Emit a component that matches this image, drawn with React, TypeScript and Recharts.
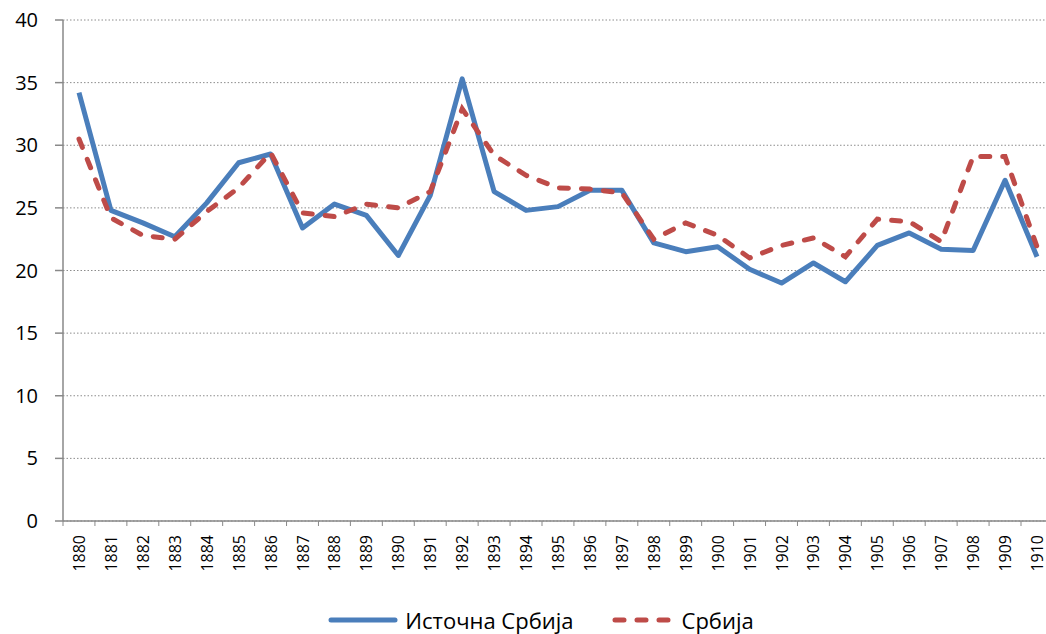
import { LineChart, Line, XAxis, YAxis, CartesianGrid, Legend } from "recharts"

const years = [
  "1880", "1881", "1882", "1883", "1884", "1885", "1886", "1887", "1888", "1889",
  "1890", "1891", "1892", "1893", "1894", "1895", "1896", "1897", "1898", "1899",
  "1900", "1901", "1902", "1903", "1904", "1905", "1906", "1907", "1908", "1909",
  "1910",
]

// Источна Србија
const eastSerbia = [
  34.2, 24.8, 23.8, 22.7, 25.4, 28.6, 29.3, 23.4, 25.3, 24.4,
  21.2, 26.0, 35.3, 26.3, 24.8, 25.1, 26.4, 26.4, 22.2, 21.5,
  21.9, 20.1, 19.0, 20.6, 19.1, 22.0, 23.0, 21.7, 21.6, 27.2,
  21.1,
]

// Србија
const serbia = [
  30.5, 24.2, 22.8, 22.5, 24.7, 26.6, 29.4, 24.6, 24.3, 25.3,
  25.0, 26.3, 32.9, 29.2, 27.6, 26.6, 26.5, 26.2, 22.5, 23.8,
  22.8, 21.0, 22.0, 22.6, 21.1, 24.1, 23.9, 22.3, 29.1, 29.1,
  21.9,
]

const yTicks = [0, 5, 10, 15, 20, 25, 30, 35, 40]

const BLUE = "#4a7ebb"
const RED = "#be4b48"
const AXIS = "#898989"
const FONT = "'Open Sans', 'Noto Sans', sans-serif"

const data = years.map((year, i) => ({
  year,
  east: eastSerbia[i],
  serbia: serbia[i],
}))

// half of one category band, for the tick marks between years
const HALF_BAND = 16

function YearTick(props: any) {
  const { x, y, payload, index } = props
  const last = index === years.length - 1
  return (
    <g>
      <line x1={x - HALF_BAND} y1={y} x2={x - HALF_BAND} y2={y + 5} stroke={AXIS} />
      {last && <line x1={x + HALF_BAND} y1={y} x2={x + HALF_BAND} y2={y + 5} stroke={AXIS} />}
      <text
        x={x}
        y={y + 14}
        transform={`rotate(-90, ${x}, ${y + 14})`}
        textAnchor="end"
        dominantBaseline="central"
        fontSize={16}
        fontFamily={FONT}
        fill="#000"
      >
        {payload.value}
      </text>
    </g>
  )
}

function ChartLegend() {
  return (
    <div
      style={{
        display: "flex",
        alignItems: "center",
        justifyContent: "center",
        height: 28,
        paddingLeft: 36,
        fontFamily: FONT,
        fontSize: 22,
        color: "#000",
      }}
    >
      <svg width={70} height={10}>
        <line x1={3} y1={5} x2={67} y2={5} stroke={BLUE} strokeWidth={5} strokeLinecap="round" />
      </svg>
      <span style={{ marginLeft: 7, marginRight: 38 }}>Источна Србија</span>
      <svg width={67} height={10}>
        <line
          x1={3}
          y1={5}
          x2={64}
          y2={5}
          stroke={RED}
          strokeWidth={5}
          strokeLinecap="round"
          strokeDasharray="9 13"
        />
      </svg>
      <span style={{ marginLeft: 3 }}>Србија</span>
    </div>
  )
}

export default function App() {
  return (
    <div style={{ width: 1046, height: 634, overflow: "hidden", background: "#fff" }}>
      <style>{`body { margin: 0; overflow: hidden; }`}</style>
      <LineChart
        width={1054}
        height={634}
        data={data}
        margin={{ top: 20, right: 1, bottom: 0, left: 0 }}
      >
        <CartesianGrid
          horizontal
          vertical={false}
          stroke="#8c8c8c"
          strokeDasharray="1.5 2"
        />
        <XAxis
          dataKey="year"
          type="category"
          interval={0}
          height={85}
          padding={{ left: 16, right: 16 }}
          axisLine={{ stroke: AXIS, strokeWidth: 1.5 }}
          tickLine={false}
          tickSize={0}
          tickMargin={0}
          tick={<YearTick />}
        />
        <YAxis
          width={63}
          domain={[0, 40]}
          ticks={yTicks}
          interval={0}
          axisLine={{ stroke: AXIS, strokeWidth: 1.5 }}
          tickLine={{ stroke: AXIS, strokeWidth: 1.5 }}
          tickSize={8}
          tickMargin={17}
          tick={{ fontSize: 20, fontFamily: FONT, fill: "#000" }}
        />
        <Line
          dataKey="east"
          name="Источна Србија"
          stroke={BLUE}
          strokeWidth={5}
          dot={false}
          activeDot={false}
          strokeLinejoin="round"
          isAnimationActive={false}
        />
        <Line
          dataKey="serbia"
          name="Србија"
          stroke={RED}
          strokeWidth={5}
          strokeDasharray="9 13"
          strokeLinecap="round"
          dot={false}
          activeDot={false}
          isAnimationActive={false}
        />
        <Legend
          verticalAlign="bottom"
          content={<ChartLegend />}
          wrapperStyle={{ left: 0, width: 1046 }}
        />
      </LineChart>
    </div>
  )
}
